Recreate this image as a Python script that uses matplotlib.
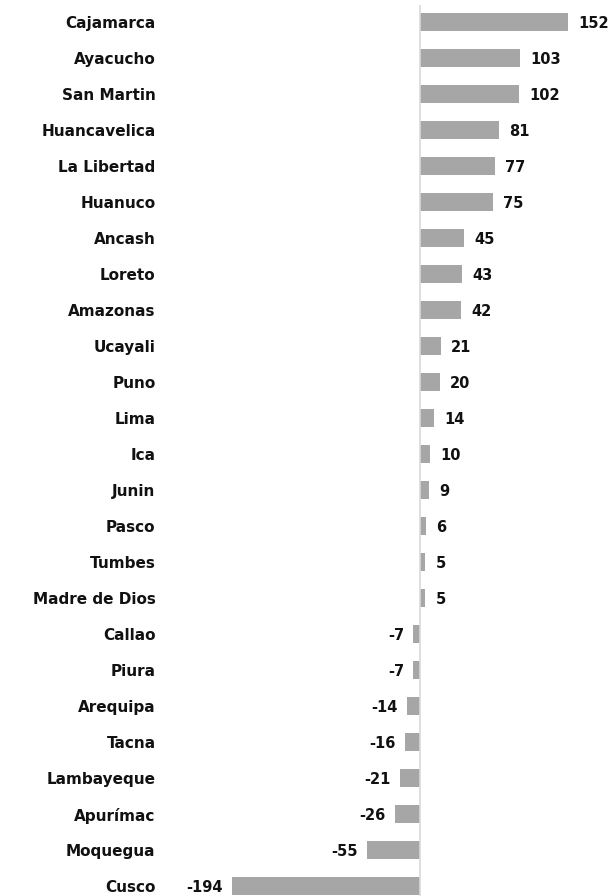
import matplotlib
matplotlib.use("Agg")
import matplotlib.pyplot as plt

regions = [
    "Cajamarca", "Ayacucho", "San Martin", "Huancavelica", "La Libertad",
    "Huanuco", "Ancash", "Loreto", "Amazonas", "Ucayali", "Puno", "Lima",
    "Ica", "Junin", "Pasco", "Tumbes", "Madre de Dios", "Callao", "Piura",
    "Arequipa", "Tacna", "Lambayeque", "Apurímac", "Moquegua", "Cusco",
]
values = [152, 103, 102, 81, 77, 75, 45, 43, 42, 21, 20, 14, 10, 9, 6, 5, 5,
          -7, -7, -14, -16, -21, -26, -55, -194]

W, H = 611, 896
fig = plt.figure(figsize=(W / 100, H / 100), dpi=100)
# axes placed in pixel terms: x=-194 at 232px, row spacing 36px
ax = fig.add_axes([232 / W, 0, (184 + 194) * 0.97 / W, 891 / H])

y = list(range(len(regions)))
ax.barh(y, values, height=0.48, color="#A6A6A6", zorder=2)
ax.set_xlim(-194, 184)
ax.set_ylim(24 + 10 / 36, -17 / 36)

for i, v in enumerate(values):
    if v >= 0:
        ax.annotate(str(v), (v, i), xytext=(7.5, -1), textcoords="offset points",
                    ha="left", va="center", fontsize=10.5, fontweight="bold",
                    color="#111111", annotation_clip=False)
    else:
        ax.annotate(str(v), (v, i), xytext=(-6.5, -1), textcoords="offset points",
                    ha="right", va="center", fontsize=10.5, fontweight="bold",
                    color="#111111", annotation_clip=False)

ax.set_yticks(y)
ax.set_yticklabels(regions, fontsize=11, fontweight="bold", color="#111111")
ax.tick_params(axis="y", length=0, pad=55)
ax.set_xticks([])

for s in ["top", "right", "bottom", "left"]:
    ax.spines[s].set_visible(False)
ax.axvline(0, color="#D9D9D9", linewidth=1.2, zorder=3)

fig.savefig("out.png", dpi=100)
